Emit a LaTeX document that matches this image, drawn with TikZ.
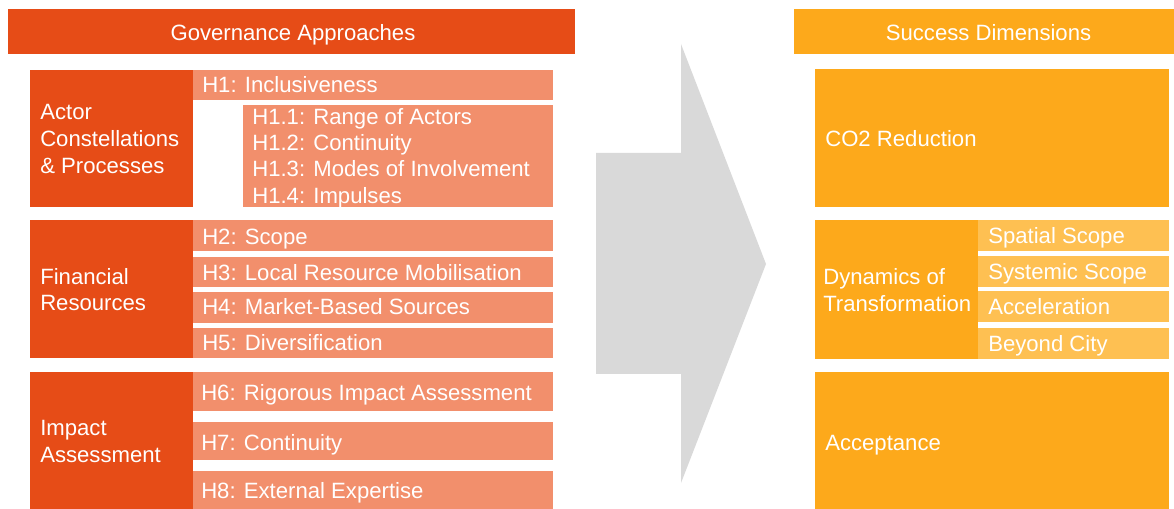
\documentclass[tikz,border=0pt]{standalone}
\usepackage{fontspec}
\setmainfont{Liberation Sans}
\usetikzlibrary{fit}
\definecolor{darkor}{RGB}{230,76,23}
\definecolor{salmon}{RGB}{242,143,108}
\definecolor{orng}{RGB}{253,169,27}
\definecolor{lightor}{RGB}{254,192,82}
\definecolor{arrowgray}{RGB}{217,217,217}
\tikzset{
  x=0.75pt, y=-0.75pt,
  blk/.style={inner sep=0pt, outer sep=0pt, draw=none},
  dark/.style={blk, fill=darkor},
  sal/.style={blk, fill=salmon},
  org/.style={blk, fill=orng},
  lor/.style={blk, fill=lightor},
  txt/.style={anchor=base west, align=left, text=white, inner sep=0pt,
    font=\fontsize{16.6}{20.2}\selectfont},
  head/.style={anchor=base, text=white, inner sep=0pt, font=\fontsize{16.6}{20}\selectfont}
}
\begin{document}
\begin{tikzpicture}
\useasboundingbox (0,0) rectangle (1174,509);
\begin{scope}
\clip (0,0) rectangle (1174,509);
% headers
\node[dark, fit={(8,9)(575,54)}] (gh) {};
\node[head] (ght) at (293,40.7) {Governance Approaches};
\node[org, fit={(794,9)(1180,54)}] (sh) {};
\node[head] (sht) at (988.5,40.2) {Success Dimensions};

% arrow
\fill[arrowgray] (596,153) -- (681,153) -- (681,44) -- (766,264) -- (681,483) -- (681,374) -- (596,374) -- cycle;

% Actor block (multi-line texts are placed by the baseline of their last line)
\node[dark, fit={(30,70)(193,207)}] (actor) {};
\node[txt] (actort) at (40,173.3) {Actor\\Constellations\\\& Processes};
\node[sal, fit={(193,70)(553,100)}] (h1) {};
\node[txt] (h1t) at (202,92.7) {H1: Inclusiveness};
\node[sal, fit={(243,105)(553,207)}] (h1x) {};
\node[txt, font=\fontsize{16.6}{19.8}\selectfont] (h1xt) at (252,203.3) {H1.1: Range of Actors\\H1.2: Continuity\\H1.3: Modes of Involvement\\H1.4: Impulses};

% Financial block
\node[dark, fit={(30,220)(193,358)}] (fin) {};
\node[txt] (fint) at (40,311) {Financial\\Resources};
\node[sal, fit={(193,220)(553,251)}] (h2) {};
\node[txt] (h2t) at (202,245) {H2: Scope};
\node[sal, fit={(193,257)(553,287)}] (h3) {};
\node[txt] (h3t) at (202,280.7) {H3: Local Resource Mobilisation};
\node[sal, fit={(193,292)(553,323)}] (h4) {};
\node[txt] (h4t) at (202,315) {H4: Market-Based Sources};
\node[sal, fit={(193,328)(553,358)}] (h5) {};
\node[txt] (h5t) at (202,350.7) {H5: Diversification};

% Impact block
\node[dark, fit={(30,372)(193,515)}] (imp) {};
\node[txt] (impt) at (40,462.7) {Impact\\Assessment};
\node[sal, fit={(193,372)(553,411)}] (h6) {};
\node[txt] (h6t) at (201,400.7) {H6: Rigorous Impact Assessment};
\node[sal, fit={(193,422)(553,460)}] (h7) {};
\node[txt] (h7t) at (201,450) {H7: Continuity};
\node[sal, fit={(193,471)(553,515)}] (h8) {};
\node[txt] (h8t) at (201,498.3) {H8: External Expertise};

% Success dimensions
\node[org, fit={(815,69)(1169,207)}] (co2) {};
\node[txt] (co2t) at (825,146.7) {CO2 Reduction};
\node[org, fit={(815,220)(978,359)}] (dyn) {};
\node[txt] (dynt) at (823,311.7) {Dynamics of\\Transformation};
\node[lor, fit={(978,220)(1169,251)}] (sp) {};
\node[txt] (spt) at (988,243.3) {Spatial Scope};
\node[lor, fit={(978,256)(1169,287)}] (sy) {};
\node[txt] (syt) at (988,279.3) {Systemic Scope};
\node[lor, fit={(978,291)(1169,322)}] (ac) {};
\node[txt] (act) at (988,315) {Acceleration};
\node[lor, fit={(978,328)(1169,359)}] (bc) {};
\node[txt] (bct) at (988,351.7) {Beyond City};
\node[org, fit={(815,372)(1169,515)}] (acc) {};
\node[txt] (acct) at (825,450) {Acceptance};
\end{scope}
\end{tikzpicture}
\end{document}
